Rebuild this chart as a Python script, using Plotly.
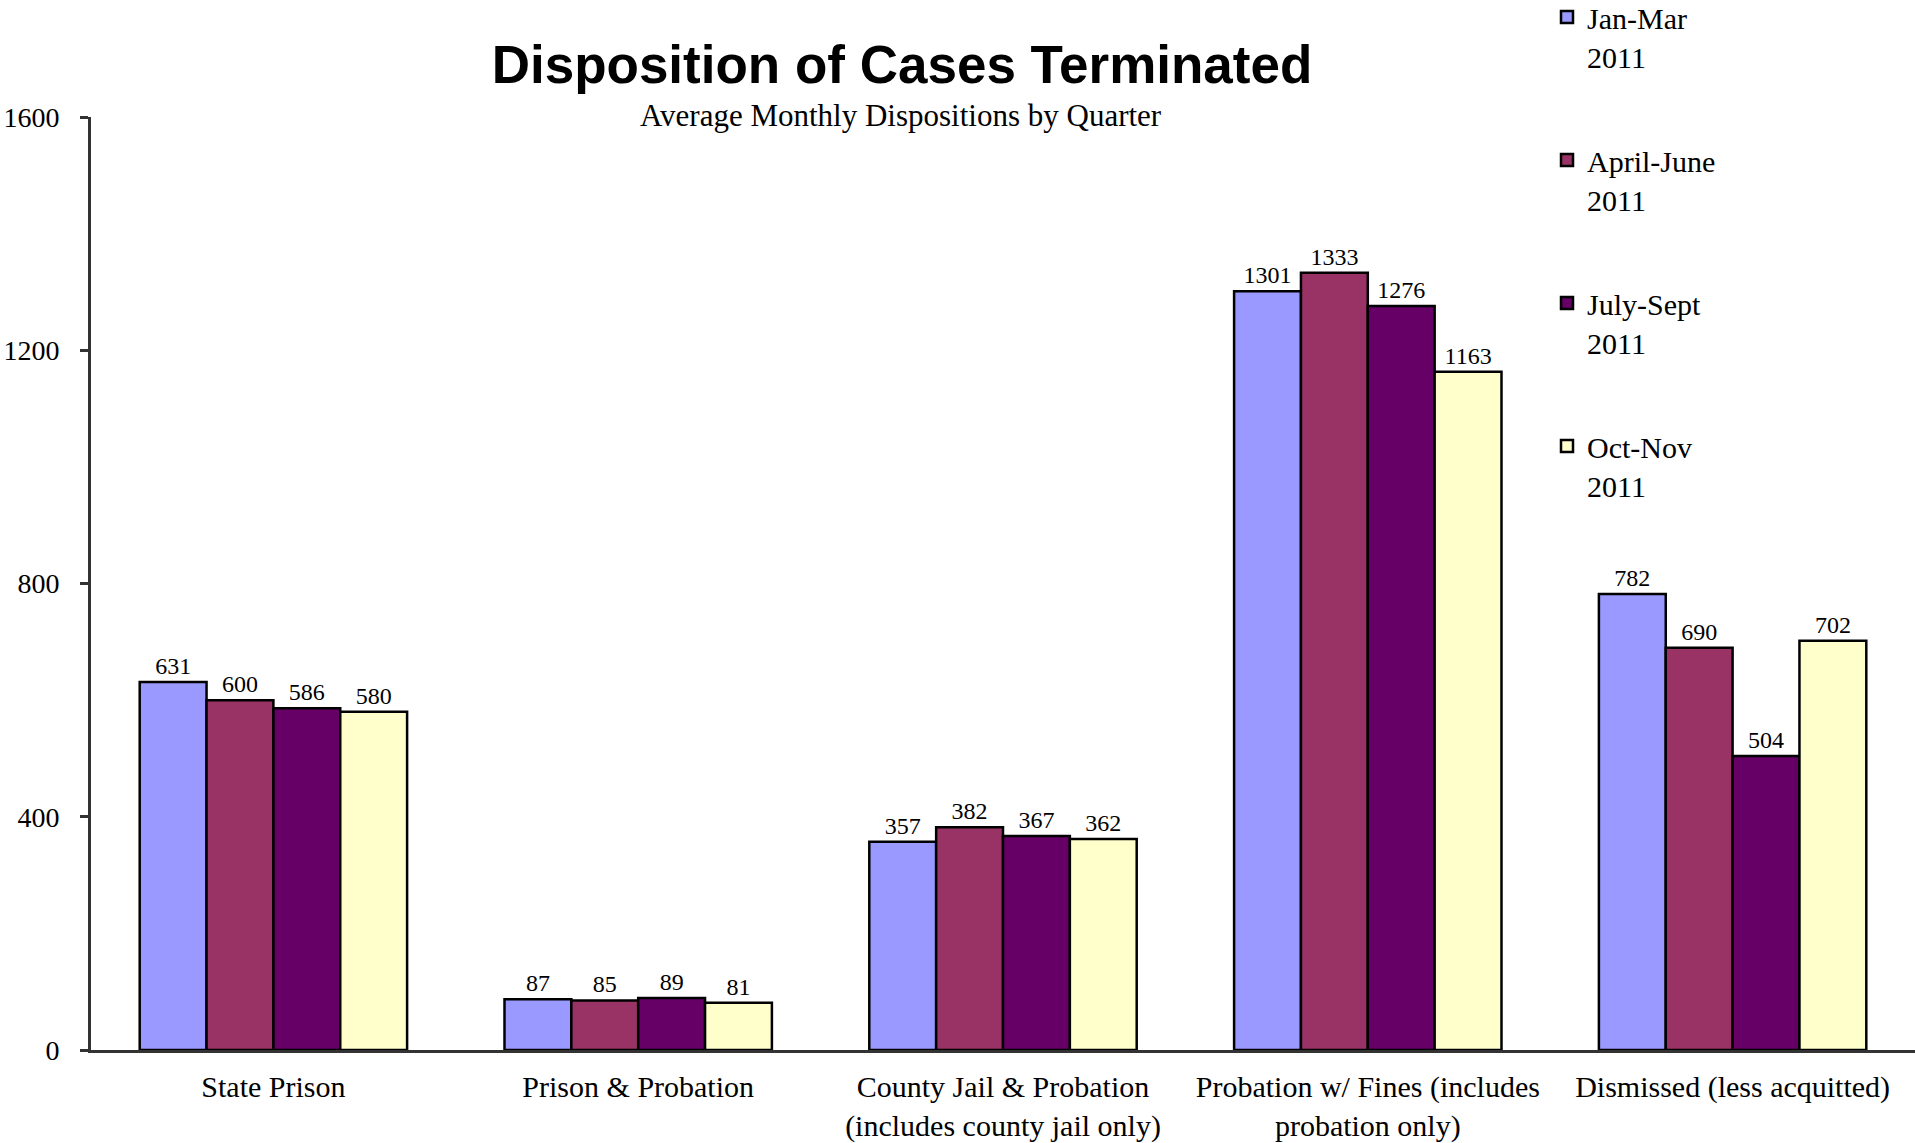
import plotly.graph_objects as go

categories = [
    "State Prison",
    "Prison & Probation",
    "County Jail & Probation<br>(includes county jail only)",
    "Probation w/ Fines (includes<br>probation only)",
    "Dismissed (less acquitted)",
]
series_names = ["Jan-Mar<br>2011", "April-June<br>2011", "July-Sept<br>2011", "Oct-Nov<br>2011"]
jan_mar = [631, 87, 357, 1301, 782]
apr_jun = [600, 85, 382, 1333, 690]
jul_sep = [586, 89, 367, 1276, 504]
oct_nov = [580, 81, 362, 1163, 702]
series_values = [jan_mar, apr_jun, jul_sep, oct_nov]
colors = ["#9999FF", "#993366", "#660066", "#FFFFCC"]
y_ticks = [0, 400, 800, 1200, 1600]

SERIF = "Liberation Serif"
W, H = 1915, 1143
ML, MR, MT, MB = 91, 0, 117, 93
PW, PH = W - ML - MR, H - MT - MB

fig = go.Figure()
for i, (name, vals, col) in enumerate(zip(series_names, series_values, colors)):
    fig.add_trace(go.Bar(
        x=categories, y=vals, name=name,
        marker=dict(color=col, line=dict(color="black", width=2.5)),
        text=[str(v) for v in vals], textposition="outside",
        textfont=dict(family=SERIF, size=24, color="black"),
        cliponaxis=False, legendgroup=f"g{i}",
    ))

fig.update_layout(
    width=W, height=H,
    paper_bgcolor="white", plot_bgcolor="white",
    margin=dict(l=ML, r=MR, t=MT, b=MB, autoexpand=False),
    barmode="group", bargap=0.267, bargroupgap=0,
    title=dict(text="<b>Disposition of Cases Terminated</b>",
               font=dict(family="Liberation Sans", size=53, color="black"),
               x=902/W, xanchor="center", xref="container",
               y=1-64/H, yanchor="middle", yref="container"),
    annotations=[dict(text="Average Monthly Dispositions by Quarter",
                      xref="paper", yref="paper", x=(901-ML)/PW, y=1+(MT-115)/PH,
                      xanchor="center", yanchor="middle", showarrow=False,
                      font=dict(family=SERIF, size=31, color="black"))],
    legend=dict(xref="paper", yref="paper", x=(1547-ML)/PW, y=1+(MT+9)/PH,
                xanchor="left", yanchor="top", valign="top",
                font=dict(family=SERIF, size=30, color="black"),
                tracegroupgap=62, bgcolor="rgba(0,0,0,0)"),
    font=dict(family=SERIF, color="black"),
)
fig.update_xaxes(showline=True, linecolor="#333333", linewidth=3, ticks="",
                 tickangle=0, ticklabelstandoff=8,
                 tickfont=dict(family=SERIF, size=30, color="black"),
                 showgrid=False, zeroline=False)
fig.update_yaxes(range=[0, 1600], tickvals=y_ticks, ticktext=[str(t) for t in y_ticks],
                 showline=True, linecolor="#333333", linewidth=3,
                 ticks="outside", ticklen=8, tickwidth=2.5, tickcolor="#333333",
                 ticklabelstandoff=15,
                 tickfont=dict(family=SERIF, size=28, color="black"),
                 showgrid=False, zeroline=False)

fig.write_html("out.html", config={"displayModeBar": False},
               post_script="document.body.style.margin='0';")
